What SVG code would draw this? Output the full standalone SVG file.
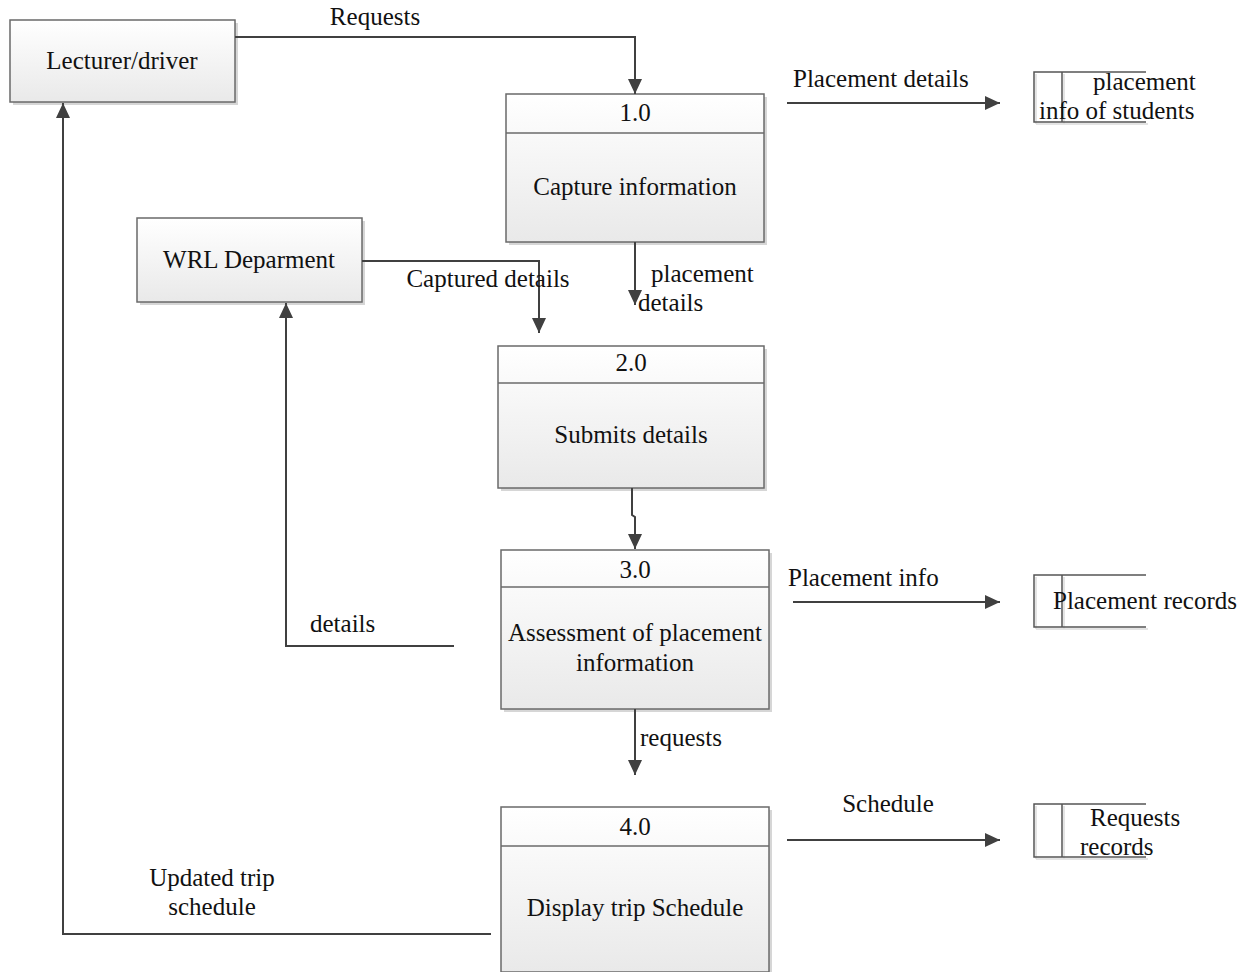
<svg xmlns="http://www.w3.org/2000/svg" width="1247" height="972" viewBox="0 0 1247 972">
  <defs>
    <linearGradient id="boxFill" x1="0" y1="0" x2="0" y2="1">
      <stop offset="0" stop-color="#ffffff"/>
      <stop offset="1" stop-color="#e9e9e9"/>
    </linearGradient>
    <marker id="arrow" markerUnits="userSpaceOnUse" markerWidth="15" markerHeight="14" refX="15" refY="7" orient="auto">
      <path d="M0,0 L15,7 L0,14 z" fill="#404040"/>
    </marker>
  </defs>
  <style>
    text { font-family: "Liberation Serif", "Times New Roman", serif; font-size: 25px; fill: #111; }
    .mid { text-anchor: middle; }
    .box { fill: url(#boxFill); stroke: #6a6a6a; stroke-width: 1.5; }
    .shadow { fill: #d6d6d6; }
    .div { stroke: #6a6a6a; stroke-width: 1.5; }
    .flow { fill: none; stroke: #404040; stroke-width: 2; }
    .flow-arrow { fill: none; stroke: #404040; stroke-width: 2; marker-end: url(#arrow); }
    .store { fill: none; stroke: #555; stroke-width: 1.5; }
    .store-shade { fill: none; stroke: #dcdcdc; stroke-width: 1.5; }
  </style>
  <rect width="1247" height="972" fill="#ffffff"/>

  <!-- external entities -->
  <g id="lecturer-driver">
    <rect class="shadow" x="13" y="23" width="225" height="82"/>
    <rect class="box" x="10" y="20" width="225" height="82"/>
    <text class="mid" x="122" y="69">Lecturer/driver</text>
  </g>
  <g id="wrl-department">
    <rect class="shadow" x="140" y="221" width="225" height="84"/>
    <rect class="box" x="137" y="218" width="225" height="84"/>
    <text class="mid" x="249" y="268">WRL Deparment</text>
  </g>

  <!-- processes -->
  <g id="process-1">
    <rect class="shadow" x="509" y="97" width="258" height="148"/>
    <rect class="box" x="506" y="94" width="258" height="148"/>
    <line class="div" x1="506" y1="133" x2="764" y2="133"/>
    <text class="mid" x="635" y="121">1.0</text>
    <text class="mid" x="635" y="195">Capture information</text>
  </g>
  <g id="process-2">
    <rect class="shadow" x="501" y="349" width="266" height="142"/>
    <rect class="box" x="498" y="346" width="266" height="142"/>
    <line class="div" x1="498" y1="383" x2="764" y2="383"/>
    <text class="mid" x="631" y="371">2.0</text>
    <text class="mid" x="631" y="443">Submits details</text>
  </g>
  <g id="process-3">
    <rect class="shadow" x="504" y="553" width="268" height="159"/>
    <rect class="box" x="501" y="550" width="268" height="159"/>
    <line class="div" x1="501" y1="587" x2="769" y2="587"/>
    <text class="mid" x="635" y="578">3.0</text>
    <text class="mid" x="635" y="641">Assessment of placement</text>
    <text class="mid" x="635" y="671">information</text>
  </g>
  <g id="process-4">
    <rect class="shadow" x="504" y="810" width="268" height="165"/>
    <rect class="box" x="501" y="807" width="268" height="165"/>
    <line class="div" x1="501" y1="846" x2="769" y2="846"/>
    <text class="mid" x="635" y="835">4.0</text>
    <text class="mid" x="635" y="916">Display trip Schedule</text>
  </g>

  <!-- data stores -->
  <g id="store-placement-info">
    <path class="store-shade" d="M1036,74 V124 M1064,74 V124 M1036,124 H1148"/>
    <path class="store" d="M1146,72 H1034 V122 H1146 M1062,72 V122"/>
    <text x="1093" y="90">placement</text>
    <text x="1039" y="119">info of students</text>
  </g>
  <g id="store-placement-records">
    <path class="store-shade" d="M1036,577 V629 M1064,577 V629 M1036,629 H1148"/>
    <path class="store" d="M1146,575 H1034 V627 H1146 M1062,575 V627"/>
    <text x="1053" y="609">Placement records</text>
  </g>
  <g id="store-requests-records">
    <path class="store-shade" d="M1036,806 V859 M1064,806 V859 M1036,859 H1148"/>
    <path class="store" d="M1146,804 H1034 V857 H1146 M1062,804 V857"/>
    <text x="1090" y="826">Requests</text>
    <text x="1080" y="855">records</text>
  </g>

  <!-- data flows -->
  <g id="connectors">
    <path class="flow-arrow" d="M235,37 H635 V94"/>
    <text class="mid" x="375" y="25">Requests</text>

    <path class="flow-arrow" d="M787,103 H1000"/>
    <text x="793" y="87">Placement details</text>

    <path class="flow-arrow" d="M635,242 V305"/>
    <text x="651" y="282">placement</text>
    <text x="638" y="311">details</text>

    <path class="flow-arrow" d="M362,261 H539 V333"/>
    <text class="mid" x="488" y="287">Captured details</text>

    <path class="flow-arrow" d="M632,488 V515 L635,517 V549"/>

    <path class="flow-arrow" d="M793,602 H1000"/>
    <text x="788" y="586">Placement info</text>

    <path class="flow-arrow" d="M454,646 H286 V303"/>
    <text x="310" y="632">details</text>

    <path class="flow-arrow" d="M635,709 V775"/>
    <text x="640" y="746">requests</text>

    <path class="flow-arrow" d="M787,840 H1000"/>
    <text class="mid" x="888" y="812">Schedule</text>

    <path class="flow-arrow" d="M491,934 H63 V103"/>
    <text class="mid" x="212" y="886">Updated trip</text>
    <text class="mid" x="212" y="915">schedule</text>
  </g>
</svg>
